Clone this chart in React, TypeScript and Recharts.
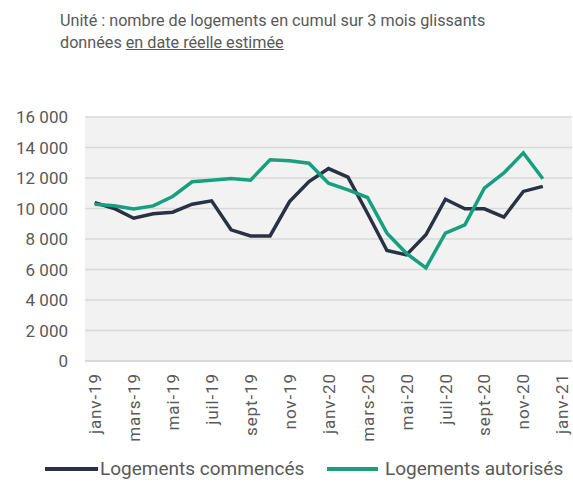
import React from "react";
import { LineChart, Line, XAxis, YAxis, CartesianGrid } from "recharts";

const months = [
  "janv-19","févr-19","mars-19","avr-19","mai-19","juin-19","juil-19","août-19","sept-19","oct-19","nov-19","déc-19",
  "janv-20","févr-20","mars-20","avr-20","mai-20","juin-20","juil-20","août-20","sept-20","oct-20","nov-20","déc-20","janv-21",
];
const commences = [10390, 10000, 9360, 9650, 9760, 10280, 10500, 8600, 8200, 8200, 10450, 11770, 12620, 12060, 9690, 7250, 6960, 8280, 10610, 9980, 9980, 9430, 11120, 11450, null];
const autorises = [10280, 10180, 9970, 10170, 10790, 11750, 11860, 11970, 11860, 13200, 13130, 12970, 11660, 11220, 10720, 8380, 7060, 6110, 8380, 8930, 11340, 12330, 13650, 11950, null];
const yTicks = [0, 2000, 4000, 6000, 8000, 10000, 12000, 14000, 16000];

const data = months.map((m, i) => ({ m, c: commences[i], a: autorises[i] }));

const FONT = "Roboto, 'Noto Sans', sans-serif";
const TEXT = "#595959";
const DARK = "#283244";
const GREEN = "#16a07e";

const fmt = (v: number) => {
  const s = String(v);
  return s.length > 3 ? s.slice(0, s.length - 3) + " " + s.slice(-3) : s;
};

const XTick = (props: any) => {
  const { x, y, payload } = props;
  return (
    <text
      transform={`translate(${x},${y + 12}) rotate(-90)`}
      textAnchor="end"
      dy="0.36em"
      fill={TEXT}
      fontSize={17}
      letterSpacing={0.9}
      fontFamily={FONT}
    >
      {payload.value}
    </text>
  );
};

export default function App() {
  return (
    <div style={{ position: "absolute", left: 0, top: 0, width: 573, height: 482, background: "#fff", fontFamily: FONT }}>
      <div style={{ position: "absolute", left: 60, top: 10, fontSize: 16.2, color: TEXT, lineHeight: "22px", whiteSpace: "nowrap" }}>
        <div>Unité : nombre de logements en cumul sur 3 mois glissants</div>
        <div>
          données <span style={{ textDecoration: "underline" }}>en date réelle estimée</span>
        </div>
      </div>
      <LineChart width={573} height={482} data={data} margin={{ top: 117, right: 1, left: 0, bottom: 41 }}>
        <CartesianGrid vertical={false} stroke="#d9d9d9" strokeWidth={1.5} fill="#f2f2f2" />
        <XAxis
          dataKey="m"
          interval={1}
          height={80}
          tick={<XTick />}
          tickLine={false}
          tickSize={0}
          tickMargin={0}
          axisLine={{ stroke: "#d9d9d9", strokeWidth: 1.5 }}
          padding={{ left: 9.7, right: 9.7 }}
        />
        <YAxis
          width={85}
          domain={[0, 16000]}
          ticks={yTicks}
          interval={0}
          tickFormatter={fmt}
          axisLine={false}
          tickLine={false}
          tickSize={0}
          tickMargin={17}
          tick={{ fill: TEXT, fontSize: 17, fontFamily: FONT }}
        />
        <Line dataKey="c" stroke={DARK} strokeWidth={3.5} dot={false} isAnimationActive={false} strokeLinejoin="miter" />
        <Line dataKey="a" stroke={GREEN} strokeWidth={3.5} dot={false} isAnimationActive={false} strokeLinejoin="miter" />
      </LineChart>
      <div style={{ position: "absolute", left: 45, top: 457, height: 24, display: "flex", alignItems: "center", fontSize: 19, lineHeight: "22px", color: TEXT, whiteSpace: "nowrap" }}>
        <span style={{ display: "inline-block", width: 53, height: 4, background: DARK, marginRight: 2 }} />
        <span>Logements commencés</span>
      </div>
      <div style={{ position: "absolute", left: 327, top: 457, height: 24, display: "flex", alignItems: "center", fontSize: 19, lineHeight: "22px", color: TEXT, whiteSpace: "nowrap" }}>
        <span style={{ display: "inline-block", width: 51, height: 4, background: GREEN, marginRight: 7 }} />
        <span>Logements autorisés</span>
      </div>
    </div>
  );
}
